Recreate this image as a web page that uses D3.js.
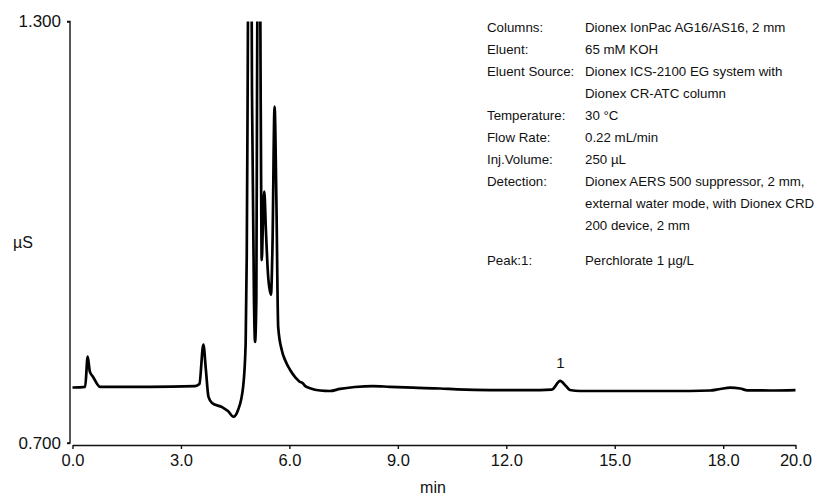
<!DOCTYPE html>
<html>
<head>
<meta charset="utf-8">
<script src="https://cdn.jsdelivr.net/npm/d3@7"></script>
<style>
  body { margin: 0; background: #fff; }
  text { font-family: "Liberation Sans", Arial, sans-serif; fill: #111; }
</style>
</head>
<body>
<script>
        // chromatogram trace (min, µS)
        const times = [0, 0.35, 0.42, 0.48, 0.57, 0.76, 2.14, 3.39, 3.51, 3.62, 3.69, 3.76, 3.86, 4.14, 4.30, 4.45,
            4.58, 4.72, 4.79, 4.82, 4.845, 4.905, 4.965, 5.02, 5.05, 5.085, 5.105, 5.155, 5.205, 5.235, 5.27, 5.305,
            5.35, 5.41, 5.49, 5.53, 5.59, 5.64, 5.69, 5.79, 5.88, 6.02, 6.18, 6.29, 6.35, 6.44, 6.57, 6.85, 7.12,
            7.40, 7.81, 8.31, 8.78, 9.42, 10.17, 10.64, 11.55, 12.46, 12.93, 13.26, 13.49, 13.65, 13.76, 14.04,
            14.59, 14.95, 15.97, 17.08, 17.64, 17.92, 18.20, 18.47, 18.67, 19.30, 20.0];
        const signal = [0.779, 0.780, 0.823, 0.8015, 0.794, 0.780, 0.780, 0.781, 0.784, 0.840, 0.804, 0.766, 0.757,
            0.751, 0.7455, 0.7374, 0.747, 0.780, 0.842, 0.965, 1.2, 1.9, 1.2, 0.904, 0.844, 0.904, 1.2, 1.7, 1.2,
            0.9605, 1.017, 1.0577, 1.003, 0.939, 0.911, 0.975, 1.1787, 1.046, 0.865, 0.832, 0.818, 0.804, 0.7925,
            0.787, 0.786, 0.781, 0.778, 0.7747, 0.774, 0.777, 0.7797, 0.7811, 0.780, 0.7787, 0.7776, 0.7764, 0.7754,
            0.7754, 0.7754, 0.776, 0.7883, 0.781, 0.7754, 0.774, 0.774, 0.774, 0.774, 0.774, 0.7747, 0.7769, 0.7787,
            0.7776, 0.775, 0.7747, 0.7754];

        const xTicks = [0, 3, 6, 9, 12, 15, 18, 20];
        const yTicks = [0.7, 1.3];
        const peakTimes = [13.5];
        const peakNames = ["1"];

        const infoLabels = ["Columns:", "Eluent:", "Eluent Source:", "", "Temperature:", "Flow Rate:",
            "Inj.Volume:", "Detection:", "", "", "Peak:1:"];
        const infoValues = ["Dionex IonPac AG16/AS16, 2 mm", "65 mM KOH", "Dionex ICS-2100 EG system with",
            "Dionex CR-ATC column", "30 °C", "0.22 mL/min", "250 µL", "Dionex AERS 500 suppressor, 2 mm,",
            "external water mode, with Dionex CRD", "200 device, 2 mm", "Perchlorate 1 µg/L"];

        const width = 817, height = 497;
        const svg = d3.select("body")
            .append("svg")
            .attr("width", width)
            .attr("height", height);

        const x = d3.scaleLinear().domain([0, 20]).range([72.5, 795.5]);
        const y = d3.scaleLinear().domain([0.7, 1.3]).range([443, 21.5]);

        // y axis (only the two end ticks)
        svg.append("g")
            .attr("transform", "translate(70,0)")
            .call(d3.axisLeft(y).tickValues(yTicks).tickFormat(d3.format(".3f")).tickSize(3).tickPadding(6))
            .call(g => g.select(".domain").attr("d", `M-3,${y(1.3)}H0V${y(0.7)}H-3`))
            .call(g => g.selectAll("line, path").attr("stroke", "#111").attr("stroke-width", 1.4))
            .call(g => g.selectAll("text").attr("font-size", 17).attr("font-family", "Liberation Sans, Arial, sans-serif"));

        // x axis
        svg.append("g")
            .attr("transform", "translate(0,445)")
            .call(d3.axisBottom(x).tickValues(xTicks).tickFormat(d3.format(".1f")).tickSize(4).tickSizeOuter(0).tickPadding(5))
            .call(g => g.selectAll("line, path").attr("stroke", "#111").attr("stroke-width", 1.4))
            .call(g => g.selectAll("text").attr("font-size", 16.5).attr("font-family", "Liberation Sans, Arial, sans-serif"));

        svg.append("text")
            .attr("x", 433)
            .attr("y", 493)
            .attr("text-anchor", "middle")
            .attr("font-size", 16)
            .text("min");

        svg.append("text")
            .attr("x", 23)
            .attr("y", 248)
            .attr("text-anchor", "middle")
            .attr("font-size", 16)
            .text("µS");

        // clip the off-scale peaks at 1.300
        svg.append("defs")
            .append("clipPath")
            .attr("id", "plot")
            .append("rect")
            .attr("x", 71)
            .attr("y", y(1.3))
            .attr("width", 730)
            .attr("height", y(0.7) - y(1.3) + 2);

        const line = d3.line()
            .curve(d3.curveMonotoneX)
            .x((d, i) => x(times[i]))
            .y(d => y(d));

        svg.append("path")
            .datum(signal)
            .attr("clip-path", "url(#plot)")
            .attr("fill", "none")
            .attr("stroke", "#000")
            .attr("stroke-width", 2.7)
            .attr("stroke-linejoin", "round")
            .attr("d", line);

        // peak labels
        svg.selectAll(".peak")
            .data(peakTimes)
            .enter()
            .append("text")
            .attr("class", "peak")
            .attr("x", d => x(d))
            .attr("y", 368)
            .attr("text-anchor", "middle")
            .attr("font-size", 15)
            .text((d, i) => peakNames[i]);

        // method conditions block
        const rowY = (i) => i < 10 ? 32 + 22 * i : 265;
        const info = svg.append("g");
        info.selectAll(".lab")
            .data(infoLabels)
            .enter()
            .append("text")
            .attr("x", 487)
            .attr("y", (d, i) => rowY(i))
            .attr("font-size", 13.3)
            .text(d => d);
        info.selectAll(".val")
            .data(infoValues)
            .enter()
            .append("text")
            .attr("x", 585)
            .attr("y", (d, i) => rowY(i))
            .attr("font-size", 13.3)
            .text(d => d);
    </script>
</body>
</html>
